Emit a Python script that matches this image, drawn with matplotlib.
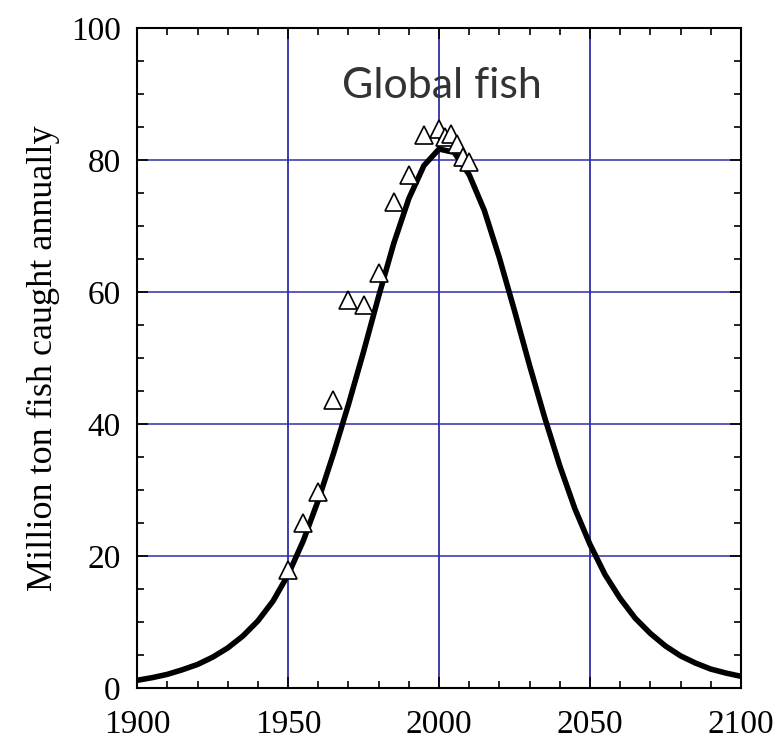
import matplotlib
matplotlib.use("Agg")
import matplotlib.pyplot as plt
from matplotlib.ticker import MultipleLocator

# model curve, every 5 years
curve_years = list(range(1900, 2101, 5))
curve_catch = [1.2, 1.6, 2.1, 2.8, 3.6, 4.7, 6.1, 7.9, 10.2, 13.2,
               17.2, 22.3, 28.5, 35.5, 43.0, 51.0, 59.4, 67.4, 74.2, 79.2,
               81.7, 81.2, 77.8, 72.4, 65.2, 57.2, 48.9, 41.0, 33.7, 27.2,
               21.8, 17.2, 13.6, 10.6, 8.3, 6.4, 4.9, 3.8, 2.9, 2.3, 1.8]

# observed catch (triangles)
obs_years = [1950, 1955, 1960, 1965, 1970, 1975, 1980, 1985, 1990, 1995,
             2000, 2002, 2004, 2006, 2008, 2010]
obs_catch = [17.9, 25.0, 29.7, 43.6, 58.8, 58.0, 62.9, 73.6, 77.7, 83.8,
             84.8, 83.5, 84.0, 82.5, 80.5, 79.8]

grid_col = '#2e2ea8'

fig = plt.figure(figsize=(7.75, 7.44), dpi=100)
ax = fig.add_axes([0.177, 0.075, 0.779, 0.887])

for x in [1950, 2000, 2050]:
    ax.axvline(x, color=grid_col, lw=1.3, zorder=1)
for y in [20, 40, 60, 80]:
    ax.axhline(y, color=grid_col, lw=1.1, zorder=1)

ax.plot(curve_years, curve_catch, color='black', lw=4, zorder=2,
        solid_joinstyle='round', solid_capstyle='round')
ax.plot(obs_years, obs_catch, linestyle='none', marker='^', markersize=13,
        markerfacecolor='white', markeredgecolor='black', markeredgewidth=1.2,
        zorder=3)

ax.text(2001, 91.3, 'Global fish', fontsize=31, family='Lato', color='#333333',
        ha='center', va='center', zorder=4)

ax.set_xlim(1900, 2100)
ax.set_ylim(0, 100)
ax.xaxis.set_major_locator(MultipleLocator(50))
ax.xaxis.set_minor_locator(MultipleLocator(10))
ax.yaxis.set_major_locator(MultipleLocator(20))
ax.yaxis.set_minor_locator(MultipleLocator(5))
ax.tick_params(which='both', direction='in', top=True, right=True, width=1.2)
ax.tick_params(which='major', length=8, labelsize=24)
ax.tick_params(axis='x', which='major', pad=15)
ax.tick_params(axis='y', which='major', pad=12)
ax.tick_params(which='minor', length=5)
for lab in ax.get_xticklabels() + ax.get_yticklabels():
    lab.set_family('Liberation Serif')
for s in ax.spines.values():
    s.set_linewidth(1.5)

ax.set_ylabel('Million ton fish caught annually', fontsize=26,
              family='Liberation Serif', labelpad=8)

fig.savefig('out.png', dpi=100)
